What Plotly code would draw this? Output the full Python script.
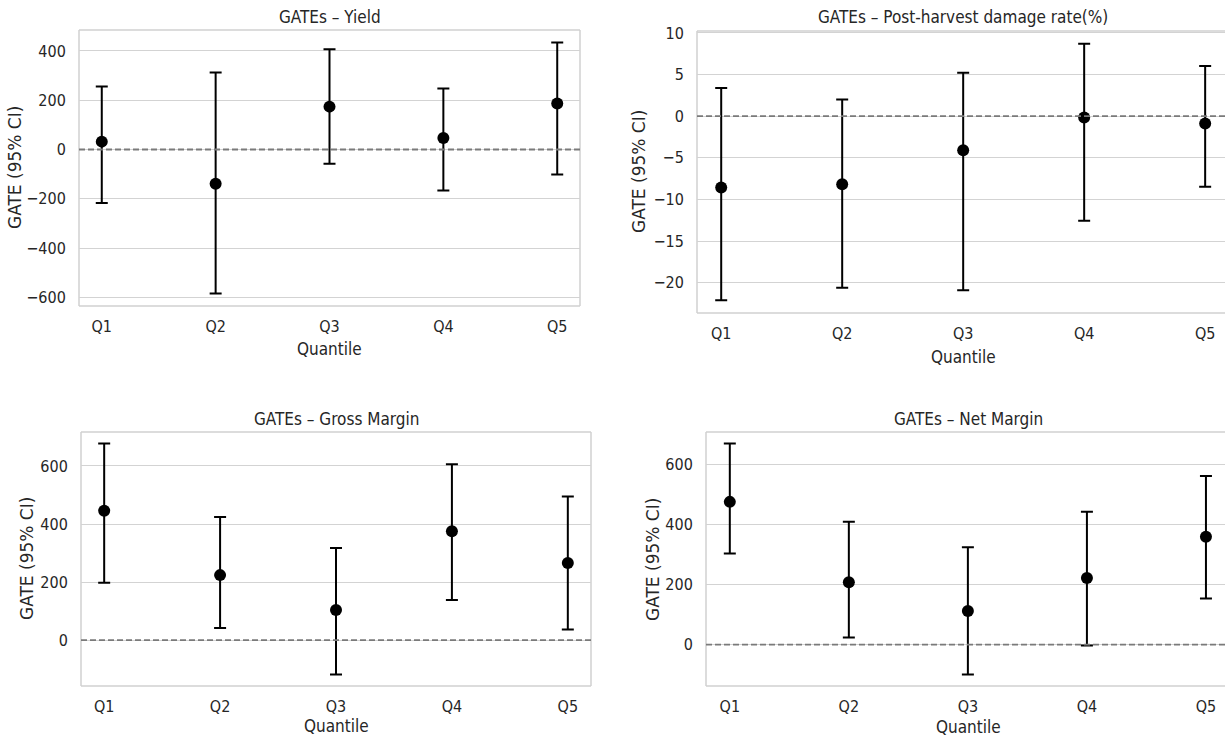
import plotly.graph_objects as go
from plotly.subplots import make_subplots

quantiles = ["Q1", "Q2", "Q3", "Q4", "Q5"]

yield_est = [32, -139, 174, 47, 187]
yield_lo = [-217, -584, -58, -166, -101]
yield_hi = [256, 312, 407, 248, 434]

damage_est = [-8.57, -8.17, -4.10, -0.16, -0.88]
damage_lo = [-22.1, -20.6, -20.9, -12.55, -8.49]
damage_hi = [3.39, 1.99, 5.22, 8.69, 6.02]

gross_est = [446, 224, 104, 375, 266]
gross_lo = [198, 42, -118, 138, 37]
gross_hi = [677, 424, 317, 606, 495]

net_est = [475, 208, 112, 222, 359]
net_lo = [303, 24, -99, -3, 154]
net_hi = [669, 409, 324, 442, 561]

titles = ["GATEs – Yield", "GATEs – Post-harvest damage rate(%)",
          "GATEs – Gross Margin", "GATEs – Net Margin"]

W, H = 1225, 738
FONT = "DejaVu Sans Condensed, Liberation Sans Narrow, DejaVu Sans, sans-serif"
FONT_V = "DejaVu Sans, sans-serif"
TXT = "#262626"
GRID = "#d3d3d3"

panels = [
    dict(est=yield_est, lo=yield_lo, hi=yield_hi, box=(79, 580, 30, 306), xr=(-0.2, 4.2),
         dtick=200, title_y=17, ylab_x=15, xlab_y=349, full_right=580),
    dict(est=damage_est, lo=damage_lo, hi=damage_hi, box=(697, 1225, 31, 313), xr=(-0.2, 4.164),
         dtick=5, title_y=17, ylab_x=639, xlab_y=357, full_right=1229),
    dict(est=gross_est, lo=gross_lo, hi=gross_hi, box=(81, 591, 432, 686), xr=(-0.2, 4.2),
         dtick=200, title_y=419, ylab_x=27, xlab_y=726, full_right=591),
    dict(est=net_est, lo=net_lo, hi=net_hi, box=(706, 1225, 432, 686), xr=(-0.2, 4.16),
         dtick=200, title_y=419, ylab_x=653, xlab_y=727, full_right=1230),
]

fig = make_subplots(rows=2, cols=2)
shapes = []
annotations = []

for i, p in enumerate(panels):
    r, c = i // 2 + 1, i % 2 + 1
    est, lo, hi = p["est"], p["lo"], p["hi"]
    fig.add_trace(go.Scatter(
        x=list(range(len(quantiles))), y=est, mode="markers",
        marker=dict(color="black", size=12),
        error_y=dict(type="data", symmetric=False,
                     array=[h - e for h, e in zip(hi, est)],
                     arrayminus=[e - l for e, l in zip(est, lo)],
                     color="black", thickness=2, width=6),
        showlegend=False, hoverinfo="skip"), row=r, col=c)

    vmin, vmax = min(lo), max(hi)
    span = vmax - vmin
    yr = [vmin - 0.05 * span, vmax + 0.05 * span]
    L, R, T, B = p["box"]
    sfx = "" if i == 0 else str(i + 1)
    fig.update_layout(**{
        "xaxis" + sfx: dict(domain=[L / W, R / W], range=list(p["xr"]), automargin=False,
                            tickmode="array", tickvals=list(range(5)), ticktext=quantiles,
                            showgrid=False, zeroline=False, showline=False,
                            ticks="outside", ticklen=6, tickcolor="rgba(0,0,0,0)",
                            tickfont=dict(family=FONT, size=16, color=TXT)),
        "yaxis" + sfx: dict(domain=[1 - B / H, 1 - T / H], range=yr, automargin=False,
                            tick0=0, dtick=p["dtick"],
                            showgrid=True, gridcolor=GRID, gridwidth=1.2,
                            zeroline=False, showline=False,
                            ticks="outside", ticklen=9, tickcolor="rgba(0,0,0,0)",
                            tickfont=dict(family=FONT, size=16, color=TXT)),
    })
    xref = "x" + sfx
    yref = "y" + sfx
    x1 = 1.02 if R >= W else 1
    for (a0, b0, a1, b1) in [(0, 0, x1, 0), (0, 1, x1, 1), (0, 0, 0, 1), (1, 0, 1, 1)]:
        if (a0 == 1 and a1 == 1) and R >= W:
            continue
        shapes.append(dict(type="line", xref=xref + " domain", yref=yref + " domain",
                           x0=a0, y0=b0, x1=a1, y1=b1,
                           line=dict(color="#d0d0d0", width=1.5), layer="below"))
    shapes.append(dict(type="line", xref=xref + " domain", yref=yref,
                       x0=0, x1=x1, y0=0, y1=0,
                       line=dict(color="#7a7a7a", width=1.8, dash="6px,3px"), layer="above"))
    cx = (L + p["full_right"]) / 2
    annotations.append(dict(text=titles[i], x=cx / W, y=1 - p["title_y"] / H,
                            xref="paper", yref="paper", showarrow=False,
                            xanchor="center", yanchor="middle",
                            font=dict(family=FONT, size=17, color=TXT)))
    annotations.append(dict(text="Quantile", x=cx / W, y=1 - p["xlab_y"] / H,
                            xref="paper", yref="paper", showarrow=False,
                            xanchor="center", yanchor="middle",
                            font=dict(family=FONT, size=17, color=TXT)))
    annotations.append(dict(text="GATE (95% CI)", x=p["ylab_x"] / W, y=1 - ((T + B) / 2) / H,
                            xref="paper", yref="paper", showarrow=False, textangle=-90,
                            xanchor="center", yanchor="middle",
                            font=dict(family=FONT_V, size=17, color=TXT)))

fig.update_layout(width=W, height=H, margin=dict(l=0, r=0, t=0, b=0),
                  paper_bgcolor="white", plot_bgcolor="white",
                  shapes=shapes, annotations=annotations)

fig.write_html("out.html", config={"displayModeBar": False},
               post_script="document.body.style.margin='0';document.body.style.overflow='hidden';"
                           "document.documentElement.style.overflow='hidden';")
